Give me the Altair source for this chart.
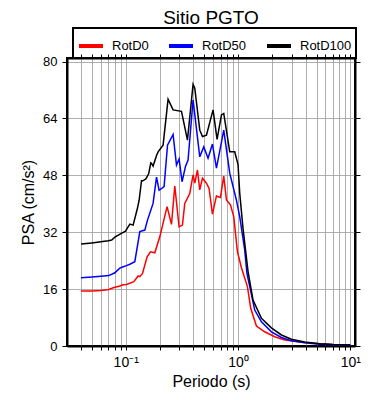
import altair as alt
import pandas as pd

series = ["RotD0", "RotD50", "RotD100"]
colors = ["#ff0000", "#0000ff", "#000000"]

rotd0_T = [0.04, 0.05, 0.06, 0.0707, 0.0773, 0.0886, 0.0948, 0.1017, 0.118, 0.129,
           0.1335, 0.1411, 0.155, 0.1662, 0.1815, 0.201, 0.2335, 0.2556, 0.2734, 0.2987,
           0.32, 0.3355, 0.3717, 0.3977, 0.4119, 0.4352, 0.4563, 0.4823, 0.5234, 0.552,
           0.5918, 0.6424, 0.6973, 0.746, 0.7886, 0.8557, 0.9157, 0.9878, 1.072, 1.212,
           1.297, 1.458, 1.728, 2.121, 2.603, 3.921, 5.33, 7.0, 10.0]
rotd0_psa = [15.5, 15.5, 15.6, 15.9, 16.4, 16.9, 17.2, 17.3, 18.1, 19.7,
             19.5, 20.4, 25.1, 26.5, 26.2, 30.7, 39.2, 34.2, 45.0, 33.5,
             34.0, 40.1, 42.9, 48.1, 45.8, 49.5, 43.9, 47.2, 45.8, 44.3,
             37.1, 42.2, 41.8, 47.8, 41.1, 39.7, 36.4, 26.5, 22.0, 16.7,
             10.6, 5.6, 4.0, 2.6, 1.7, 1.0, 0.6, 0.4, 0.3]

rotd50_T = [0.04, 0.05, 0.06, 0.0707, 0.08, 0.0886, 0.095, 0.1017, 0.1088, 0.1205,
            0.1335, 0.1479, 0.1563, 0.1752, 0.188, 0.1982, 0.2196, 0.2355, 0.2641, 0.2831,
            0.2987, 0.3175, 0.3404, 0.359, 0.3977, 0.4563, 0.4952, 0.5408, 0.5918, 0.6424,
            0.746, 0.8437, 0.9678, 1.035, 1.147, 1.2, 1.408, 1.615, 1.982, 2.433,
            2.986, 3.921, 5.33, 7.0, 10.0]
rotd50_psa = [19.2, 19.4, 19.6, 19.8, 20.6, 21.9, 22.3, 22.6, 23.0, 23.7,
              32.2, 32.6, 35.4, 40.1, 47.5, 43.8, 44.8, 56.5, 59.5, 50.9,
              52.6, 46.2, 50.5, 52.3, 69.2, 53.2, 56.0, 52.8, 56.8, 50.0,
              60.7, 48.6, 41.0, 36.4, 27.0, 20.4, 10.1, 6.8, 4.0, 2.4,
              1.5, 0.9, 0.5, 0.35, 0.25]

rotd100_T = [0.04, 0.05, 0.06, 0.07, 0.075, 0.08, 0.0915, 0.0996, 0.105, 0.109,
             0.1164, 0.1273, 0.1316, 0.1382, 0.1411, 0.151, 0.155, 0.1605, 0.1672, 0.1696,
             0.1752, 0.188, 0.1942, 0.2151, 0.2383, 0.2641, 0.3136, 0.3546, 0.3977, 0.4119,
             0.4563, 0.4823, 0.5234, 0.5991, 0.6505, 0.7117, 0.746, 0.8437, 0.9346, 1.0,
             1.035, 1.108, 1.227, 1.36, 1.615, 1.982, 2.433, 2.986, 3.921, 5.33,
             7.0, 10.0]
rotd100_psa = [28.7, 29.0, 29.3, 29.6, 29.8, 30.6, 31.7, 32.3, 33.5, 34.3,
               34.0, 38.8, 41.0, 46.5, 46.4, 47.0, 47.6, 48.6, 51.5, 51.4,
               50.6, 53.6, 54.6, 56.5, 69.4, 66.4, 66.0, 57.9, 73.6, 72.5,
               60.7, 58.9, 59.3, 66.4, 58.1, 65.0, 65.4, 54.6, 54.6, 51.0,
               43.0, 33.0, 21.0, 12.9, 7.8, 5.1, 3.1, 1.9, 1.1, 0.6,
               0.4, 0.3]

x_ticks = [0.04, 0.05, 0.06, 0.07, 0.08, 0.09,
           0.1, 0.2, 0.3, 0.4, 0.5, 0.6, 0.7, 0.8, 0.9,
           1, 2, 3, 4, 5, 6, 7, 8, 9, 10]
y_ticks = [0, 16, 32, 48, 64, 80]

rows = []
for name, T, v in [("RotD0", rotd0_T, rotd0_psa),
                   ("RotD50", rotd50_T, rotd50_psa),
                   ("RotD100", rotd100_T, rotd100_psa)]:
    for t, p in zip(T, v):
        rows.append({"T": t, "PSA": p, "comp": name})
df = pd.DataFrame(rows)

FONT = "Liberation Sans"
x_scale = alt.Scale(type="log", domain=[0.03, 11], nice=False)
y_scale = alt.Scale(domain=[0, 81], nice=False, zero=False)

label_expr = ("datum.value == 0.1 ? '10⁻¹' : datum.value == 1 ? '10⁰' : "
              "datum.value == 10 ? '10¹' : ''")

lines = alt.Chart(df).mark_line(strokeWidth=1.5, clip=True).encode(
    x=alt.X("T:Q", scale=x_scale,
            axis=alt.Axis(orient="bottom", values=x_ticks, labelExpr=label_expr,
                          title="Periodo (s)", grid=True, labelOverlap=False,
                          labelFontSize=14, labelPadding=5, tickSize=4,
                          titleFontSize=16, titlePadding=4)),
    y=alt.Y("PSA:Q", scale=y_scale,
            axis=alt.Axis(orient="left", values=y_ticks, title="PSA (cm/s²)",
                          grid=True, labelFontSize=13, labelPadding=5, tickSize=5,
                          titleFontSize=16, titlePadding=6)),
    color=alt.Color("comp:N", scale=alt.Scale(domain=series, range=colors),
                    legend=alt.Legend(orient="none", legendX=6, legendY=-30,
                                      direction="horizontal", title=None,
                                      symbolType="stroke", symbolStrokeWidth=4,
                                      symbolSize=576, labelFontSize=13,
                                      labelOffset=7, columnPadding=12,
                                      padding=4, strokeColor="black",
                                      symbolOpacity=1)),
)

mirror = alt.Chart(df).mark_point(opacity=0).encode(
    x=alt.X("T:Q", scale=x_scale,
            axis=alt.Axis(orient="top", values=x_ticks, labels=False, title="",
                          grid=False, tickSize=4)),
    y=alt.Y("PSA:Q", scale=y_scale,
            axis=alt.Axis(orient="right", values=y_ticks, labels=False, title="",
                          grid=False, tickSize=5)),
)

chart = alt.layer(lines, mirror).properties(
    width=288, height=288,
    autosize=alt.AutoSizeParams(type="none"),
    padding={"left": 59, "top": 50, "right": 27, "bottom": 52},
    title=alt.TitleParams("Sitio PGTO", fontSize=19, font=FONT,
                          fontWeight="normal", anchor="middle", offset=-1,
                          color="black"),
).configure(font=FONT).configure_axis(
    domainColor="black", domainWidth=2, tickColor="black", tickWidth=1,
    gridColor="#9a9a9a", gridWidth=0.8, labelColor="black", titleColor="black",
    titleFontWeight="normal", labelFont=FONT, titleFont=FONT,
).configure_legend(
    strokeWidth=2, labelFont=FONT, labelColor="black",
).configure_view(stroke="black", strokeWidth=2)

chart.save("out.html", embed_options={"renderer": "svg", "actions": False})
